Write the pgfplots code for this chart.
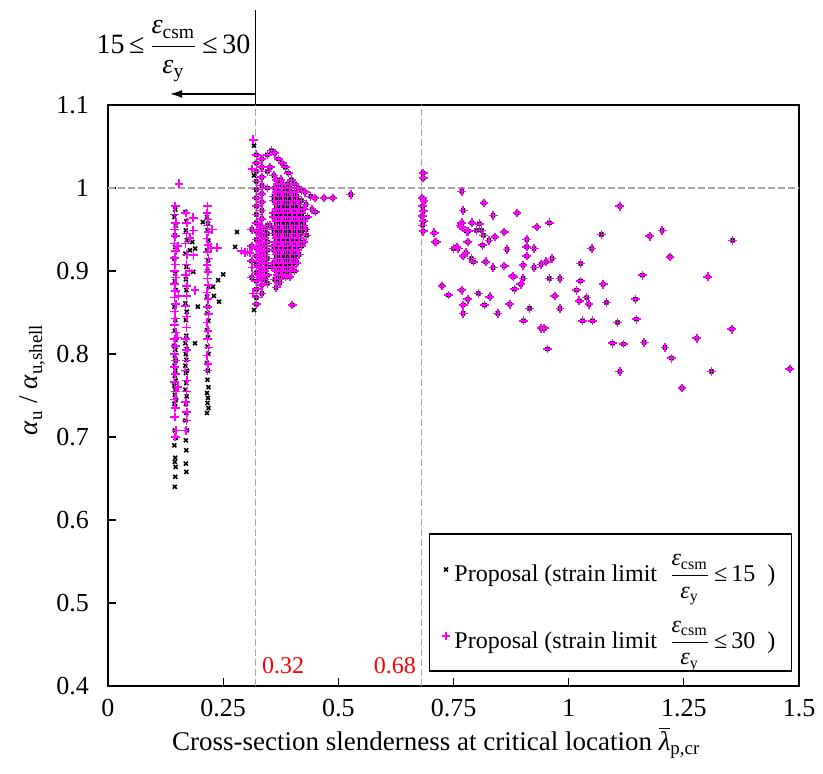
\documentclass[border=0pt]{standalone}
\usepackage{pgfplots}
\pgfplotsset{compat=1.18}
\usepackage{pgfplotstable}
\usepackage{fontspec}
\setmainfont{Liberation Serif}
\usetikzlibrary{arrows.meta}
\newcommand{\epsfrac}{$\displaystyle\frac{\mbox{\textit{ε}\textsubscript{csm}}}{\mbox{\textit{ε}\textsubscript{y}}}$}
\definecolor{mag}{RGB}{255,0,255}

\pgfplotstableread{
x y
0.146 0.974
0.144 0.965
0.147 0.955
0.145 0.943
0.146 0.929
0.144 0.915
0.146 0.897
0.145 0.888
0.147 0.877
0.144 0.857
0.146 0.841
0.145 0.828
0.147 0.817
0.144 0.810
0.146 0.805
0.145 0.798
0.147 0.792
0.144 0.786
0.146 0.780
0.145 0.774
0.147 0.768
0.144 0.762
0.146 0.757
0.145 0.751
0.147 0.745
0.144 0.740
0.146 0.737
0.145 0.708
0.147 0.699
0.144 0.690
0.146 0.675
0.145 0.670
0.147 0.664
0.146 0.652
0.145 0.640
0.168 0.971
0.170 0.960
0.169 0.949
0.171 0.937
0.168 0.921
0.170 0.905
0.169 0.890
0.170 0.877
0.168 0.861
0.171 0.851
0.169 0.841
0.170 0.822
0.168 0.813
0.171 0.806
0.169 0.800
0.170 0.793
0.168 0.786
0.171 0.780
0.169 0.777
0.170 0.765
0.168 0.757
0.171 0.749
0.169 0.740
0.170 0.729
0.168 0.720
0.171 0.708
0.169 0.696
0.170 0.684
0.169 0.668
0.170 0.658
0.215 0.965
0.217 0.957
0.216 0.949
0.218 0.937
0.215 0.925
0.217 0.913
0.216 0.900
0.218 0.881
0.215 0.869
0.217 0.857
0.216 0.849
0.218 0.840
0.215 0.829
0.217 0.820
0.216 0.809
0.218 0.800
0.215 0.789
0.217 0.780
0.216 0.769
0.218 0.760
0.215 0.753
0.217 0.747
0.216 0.741
0.218 0.735
0.215 0.729
0.280 0.947
0.276 0.929
0.250 0.896
0.239 0.889
0.241 0.863
0.228 0.881
0.230 0.870
0.195 0.857
0.189 0.813
0.185 0.899
0.189 0.927
0.206 0.959
0.183 0.935
0.178 0.925
0.317 1.051
0.317 1.015
0.317 0.853
}\blackleft

\pgfplotstableread{
x y
0.146 0.978
0.144 0.968
0.147 0.958
0.145 0.950
0.146 0.942
0.144 0.933
0.147 0.924
0.145 0.916
0.146 0.908
0.144 0.900
0.147 0.892
0.145 0.884
0.146 0.876
0.144 0.868
0.147 0.860
0.145 0.851
0.146 0.843
0.144 0.835
0.147 0.826
0.145 0.818
0.146 0.810
0.144 0.800
0.147 0.792
0.145 0.784
0.146 0.776
0.144 0.766
0.147 0.755
0.145 0.745
0.146 0.735
0.145 0.724
0.148 0.708
0.146 0.700
0.152 0.930
0.153 0.870
0.151 0.820
0.152 0.760
0.154 1.005
0.169 0.970
0.171 0.958
0.170 0.945
0.168 0.933
0.171 0.920
0.170 0.908
0.169 0.895
0.171 0.882
0.170 0.870
0.168 0.858
0.171 0.845
0.170 0.832
0.169 0.818
0.171 0.805
0.170 0.792
0.168 0.780
0.171 0.768
0.170 0.755
0.169 0.742
0.171 0.730
0.170 0.720
0.169 0.708
0.185 0.964
0.185 0.949
0.186 0.919
0.189 0.877
0.178 0.940
0.177 0.900
0.216 0.978
0.215 0.970
0.217 0.962
0.216 0.955
0.218 0.947
0.215 0.939
0.217 0.931
0.216 0.923
0.218 0.915
0.215 0.907
0.217 0.899
0.216 0.891
0.218 0.883
0.215 0.874
0.217 0.866
0.216 0.857
0.218 0.848
0.215 0.838
0.217 0.828
0.216 0.818
0.218 0.808
0.215 0.798
0.217 0.788
0.216 0.780
0.224 0.928
0.237 0.928
0.226 0.950
0.290 0.924
0.297 0.922
0.303 0.923
0.308 0.922
0.313 0.904
0.315 0.873
0.313 1.023
0.315 1.058
}\magleft

\pgfplotstableread{
x y
0.322 1.040
0.322 1.030
0.322 1.020
0.322 1.008
0.322 0.998
0.322 0.988
0.322 0.978
0.322 0.968
0.322 0.958
0.322 0.948
0.322 0.938
0.322 0.928
0.322 0.918
0.322 0.908
0.322 0.898
0.322 0.888
0.322 0.878
0.322 0.868
0.322 0.860
0.334 1.035
0.334 1.025
0.334 1.013
0.334 1.003
0.334 0.993
0.334 0.983
0.334 0.973
0.334 0.963
0.334 0.953
0.334 0.943
0.334 0.933
0.334 0.923
0.334 0.913
0.334 0.903
0.334 0.893
0.334 0.883
0.334 0.873
0.328 0.955
0.328 0.945
0.328 0.935
0.328 0.925
0.328 0.915
0.328 0.905
0.328 0.895
0.340 0.950
0.340 0.940
0.340 0.930
0.340 0.920
0.340 0.910
0.340 0.900
0.340 0.890
0.346 1.040
0.346 1.020
0.346 1.000
0.346 0.955
0.346 0.945
0.346 0.935
0.346 0.925
0.346 0.915
0.346 0.905
0.346 0.895
0.346 0.885
0.312 0.950
0.312 0.930
0.312 0.912
0.312 0.892
0.355 1.045
0.362 1.042
0.370 1.035
0.378 1.030
0.385 1.025
0.392 1.018
0.398 1.010
0.405 1.005
0.413 1.000
0.420 0.997
0.428 0.995
0.440 0.990
0.449 0.988
0.469 0.988
0.488 0.988
0.527 0.992
0.352 1.025
0.360 1.015
0.352 0.955
0.355 0.905
0.342 0.920
0.365 1.010
0.375 1.010
0.362 1.000
0.372 1.000
0.385 1.000
0.395 1.000
0.360 0.990
0.370 0.990
0.380 0.990
0.390 0.990
0.400 0.990
0.410 0.990
0.365 0.980
0.375 0.980
0.385 0.980
0.395 0.980
0.405 0.980
0.415 0.980
0.430 0.980
0.360 0.970
0.370 0.970
0.380 0.970
0.390 0.970
0.400 0.970
0.410 0.970
0.420 0.970
0.443 0.974
0.450 0.971
0.365 0.960
0.375 0.960
0.385 0.960
0.395 0.960
0.405 0.960
0.415 0.960
0.425 0.960
0.360 0.950
0.370 0.950
0.380 0.950
0.390 0.950
0.400 0.950
0.410 0.950
0.420 0.950
0.430 0.950
0.365 0.940
0.375 0.940
0.385 0.940
0.395 0.940
0.405 0.940
0.415 0.940
0.431 0.943
0.360 0.930
0.370 0.930
0.380 0.930
0.390 0.930
0.400 0.930
0.410 0.930
0.420 0.930
0.365 0.920
0.375 0.920
0.385 0.920
0.395 0.920
0.405 0.920
0.415 0.920
0.360 0.910
0.370 0.910
0.380 0.910
0.390 0.910
0.400 0.910
0.410 0.910
0.365 0.900
0.375 0.900
0.385 0.900
0.395 0.900
0.405 0.900
0.362 0.890
0.372 0.890
0.385 0.893
0.395 0.893
0.365 0.880
0.373 0.886
0.368 1.005
0.378 1.005
0.390 1.005
0.365 0.995
0.375 0.995
0.385 0.995
0.395 0.995
0.405 0.995
0.360 0.985
0.370 0.985
0.380 0.985
0.390 0.985
0.400 0.985
0.410 0.985
0.420 0.985
0.365 0.975
0.375 0.975
0.385 0.975
0.395 0.975
0.405 0.975
0.415 0.975
0.425 0.975
0.360 0.965
0.370 0.965
0.380 0.965
0.390 0.965
0.400 0.965
0.410 0.965
0.420 0.965
0.433 0.965
0.365 0.955
0.375 0.955
0.385 0.955
0.395 0.955
0.405 0.955
0.415 0.955
0.425 0.955
0.360 0.945
0.370 0.945
0.380 0.945
0.390 0.945
0.400 0.945
0.410 0.945
0.420 0.945
0.365 0.935
0.375 0.935
0.385 0.935
0.395 0.935
0.405 0.935
0.415 0.935
0.425 0.935
0.360 0.925
0.370 0.925
0.380 0.925
0.390 0.925
0.400 0.925
0.410 0.925
0.365 0.915
0.375 0.915
0.385 0.915
0.395 0.915
0.405 0.915
0.360 0.905
0.370 0.905
0.380 0.905
0.390 0.905
0.400 0.905
0.368 0.895
0.378 0.895
0.390 0.895
0.400 0.859
0.684 1.018
0.684 1.012
0.682 0.988
0.686 0.984
0.683 0.978
0.684 0.972
0.682 0.966
0.685 0.960
0.683 0.955
0.684 0.948
0.768 0.996
0.816 0.982
0.771 0.973
0.836 0.967
0.888 0.970
0.768 0.958
0.764 0.955
0.768 0.953
0.790 0.958
0.806 0.957
0.778 0.948
0.782 0.948
0.800 0.949
0.811 0.949
0.815 0.943
0.860 0.947
0.840 0.941
0.827 0.937
0.813 0.931
0.781 0.935
0.931 0.953
0.958 0.958
0.708 0.946
0.710 0.935
0.713 0.935
0.750 0.927
0.757 0.929
0.760 0.927
0.777 0.922
0.771 0.918
0.789 0.915
0.793 0.911
0.820 0.911
0.836 0.904
0.860 0.906
0.866 0.926
0.909 0.938
0.909 0.929
0.925 0.927
0.909 0.918
0.901 0.907
0.925 0.904
0.940 0.908
0.951 0.911
0.964 0.915
0.878 0.894
0.880 0.893
0.901 0.891
0.958 0.891
0.981 0.891
0.896 0.884
0.882 0.878
0.725 0.882
0.739 0.871
0.768 0.877
0.804 0.873
0.829 0.869
0.781 0.866
0.771 0.859
0.771 0.849
0.817 0.859
0.846 0.849
0.872 0.860
0.915 0.855
0.902 0.840
0.940 0.831
0.947 0.831
0.954 0.806
0.970 0.870
0.981 0.855
1.026 0.909
1.026 0.888
1.050 0.927
1.071 0.944
1.017 0.877
1.023 0.864
1.039 0.868
1.044 0.860
1.030 0.840
1.052 0.840
1.075 0.884
1.082 0.862
1.111 0.978
1.106 0.838
1.095 0.813
1.119 0.812
1.111 0.779
1.176 0.942
1.203 0.949
1.220 0.917
1.160 0.895
1.145 0.866
1.147 0.842
1.164 0.814
1.209 0.808
1.223 0.795
1.246 0.759
1.278 0.819
1.310 0.779
1.302 0.893
1.354 0.830
1.356 0.937
1.480 0.782
}\shared

\begin{document}
\begin{tikzpicture}
\path[use as bounding box] (-54pt,-43.5pt) rectangle (357.5pt,343pt);
\begin{axis}[
  scale only axis,
  width=345.5pt, height=290.5pt,
  at={(0,0)}, anchor=south west,
  xmin=0, xmax=1.5, ymin=0.4, ymax=1.1,
  xtick={0,0.25,0.5,0.75,1,1.25,1.5},
  ytick={0.4,0.5,0.6,0.7,0.8,0.9,1,1.1},
  xtick pos=bottom, ytick pos=left,
  tick align=inside,
  major tick length=4pt,
  axis line style={line width=0.8pt},
  every tick/.style={black, line width=0.6pt},
  /pgf/number format/assume math mode=true,
  tick label style={font=\fontsize{13}{15}\selectfont},
  xticklabel style={yshift=-3pt},
  yticklabel style={xshift=-6pt},
  clip=false,
  xlabel={Cross-section slenderness at critical location $\overline{\mbox{\textit{λ}}}$\textsubscript{p,cr}},
  ylabel={\textit{α}\textsubscript{u} / \textit{α}\textsubscript{u,shell}},
  every axis x label/.style={at={(rel axis cs:0.475,0)}, anchor=north, yshift=-17pt, font=\fontsize{13.5}{16}\selectfont},
  every axis y label/.style={at={(rel axis cs:0,0.527)}, rotate=90, anchor=south, yshift=28pt, font=\fontsize{13.5}{16}\selectfont},
  legend style={at={(rel axis cs:0.99,0.024)}, anchor=south east,
    draw=black, line width=0.8pt, fill=white,
    font=\fontsize{12}{14}\selectfont,
    cells={anchor=west}, row sep=14pt,
    inner xsep=6pt, inner ysep=8pt},
  legend image code/.code={\draw[line width=0.6pt] plot coordinates {(0.15cm,0cm)};},
]
% reference dashed lines
\addplot[gray!70, line width=0.6pt, dash pattern=on 3.3pt off 1.7pt, forget plot] coordinates {(0,1) (1.5,1)};
\addplot[gray!70, line width=0.6pt, dash pattern=on 3.3pt off 1.7pt, forget plot] coordinates {(0.32,0.4) (0.32,1.1)};
\addplot[gray!70, line width=0.6pt, dash pattern=on 3.3pt off 1.7pt, forget plot] coordinates {(0.68,0.4) (0.68,1.1)};

\addplot[only marks, mark=x, black, mark size=1.4pt, mark options={line width=0.8pt}, forget plot] table[x=x,y=y] {\blackleft};
\addplot[only marks, mark=x, black, mark size=1.4pt, mark options={line width=0.8pt}, forget plot] table[x=x,y=y] {\shared};
\addplot[only marks, mark=+, mag, mark size=2.2pt, mark options={line width=0.8pt}, forget plot] table[x=x,y=y] {\magleft};
\addplot[only marks, mark=+, mag, mark size=2.2pt, mark options={line width=0.8pt}, forget plot] table[x=x,y=y] {\shared};

\addlegendimage{only marks, mark=x, black, mark size=1.4pt, mark options={line width=0.8pt}}
\addlegendentry{Proposal (strain limit~~\epsfrac\,≤\,15~~)}
\addlegendimage{only marks, mark=+, mag, mark size=2.2pt, mark options={line width=0.8pt}}
\addlegendentry{Proposal (strain limit~~\epsfrac\,≤\,30~~)}

% annotations
\draw[line width=0.7pt] (axis cs:0.32,1.1) -- (axis cs:0.32,1.2145);
\draw[line width=0.6pt, -{Latex[length=6pt,width=4pt]}] (axis cs:0.32,1.1133) -- (axis cs:0.135,1.1133);
\node[font=\fontsize{14}{16}\selectfont] at (axis cs:0.142,1.165) {15\,≤\,\epsfrac\,≤\,30};
\node[red, font=\fontsize{12}{14}\selectfont] at (axis cs:0.38,0.424) {0.32};
\node[red, font=\fontsize{12}{14}\selectfont] at (axis cs:0.623,0.424) {0.68};
\end{axis}
\end{tikzpicture}
\end{document}
